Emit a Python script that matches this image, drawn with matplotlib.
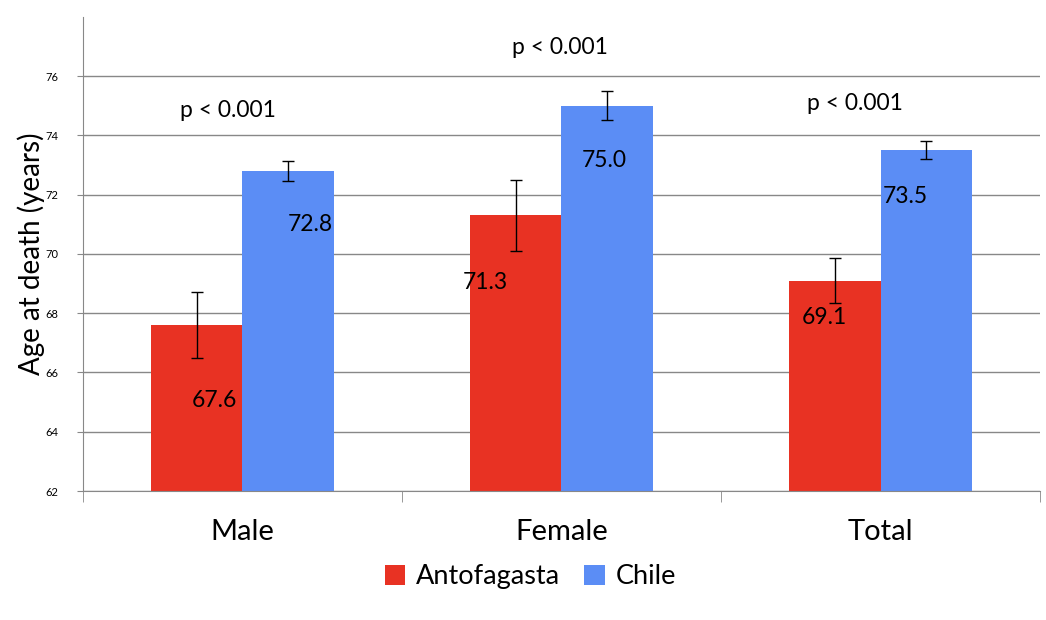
import matplotlib.pyplot as plt
from matplotlib.ticker import FixedLocator

groups = ["Male", "Female", "Total"]
series = ["Antofagasta", "Chile"]
antofagasta = [67.6, 71.3, 69.1]
chile = [72.8, 75.0, 73.5]
antofagasta_err = [1.1, 1.2, 0.75]
chile_err = [0.35, 0.5, 0.3]
p_labels = ["p < 0.001", "p < 0.001", "p < 0.001"]

colors = ["#E83223", "#5B8DF5"]

# label layout (offset below bar top in data units, x shift in points)
label_drop = [[2.55, 2.25, 1.25], [1.8, 1.85, 1.55]]
label_dx = [[13, -22, -7], [16, -2, -15]]
p_x = [-0.045, 0.995, 1.92]
p_y = [74.85, 76.95, 75.08]

plt.rcParams["font.family"] = ["Lato", "DejaVu Sans"]

fig = plt.figure(figsize=(10.46, 6.2), dpi=100)
ax = fig.add_axes([0.0793, 0.208, 0.915, 0.765])

width = 0.288
x = list(range(len(groups)))
vals = [antofagasta, chile]
errs = [antofagasta_err, chile_err]
for s in range(2):
    xs = [i + (s - 0.5) * width for i in x]
    ax.bar(xs, vals[s], width, bottom=0, color=colors[s], label=series[s],
           zorder=2)
    ax.errorbar(xs, vals[s], yerr=errs[s], fmt="none", ecolor="black",
                elinewidth=1, capsize=4, capthick=1, zorder=3)
    for i in x:
        ax.annotate(f"{vals[s][i]:.1f}", (xs[i], vals[s][i] - label_drop[s][i]),
                    xytext=(label_dx[s][i], 0), textcoords="offset points",
                    ha="center", va="center", fontsize=16.5, zorder=4)

for i in x:
    ax.text(p_x[i], p_y[i], p_labels[i], ha="center", va="center",
            fontsize=16.5)

ax.set_ylim(62, 78)
ax.set_xlim(-0.5, 2.5)
ax.set_yticks(range(62, 77, 2))
ax.tick_params(axis="y", labelsize=8, length=4, color="#888888", pad=14)
ax.grid(axis="y", color="#888888", linewidth=1, zorder=0)
ax.set_axisbelow(True)

ax.set_xticks(x)
ax.set_xticklabels(groups, fontsize=21)
ax.tick_params(axis="x", length=0, pad=20)
ax.xaxis.set_minor_locator(FixedLocator([-0.5, 0.5, 1.5, 2.5]))
ax.tick_params(axis="x", which="minor", length=8, color="#888888")

for side in ["top", "right"]:
    ax.spines[side].set_visible(False)
for side in ["left", "bottom"]:
    ax.spines[side].set_color("#888888")

ax.set_ylabel("Age at death (years)", fontsize=20, labelpad=0)

fig.legend(loc="center", bbox_to_anchor=(0.507, 0.07), ncol=2, frameon=False,
           fontsize=19.5, handlelength=0.75, handleheight=0.75,
           handletextpad=0.4, columnspacing=0.9)

fig.savefig("out.png", dpi=100)
